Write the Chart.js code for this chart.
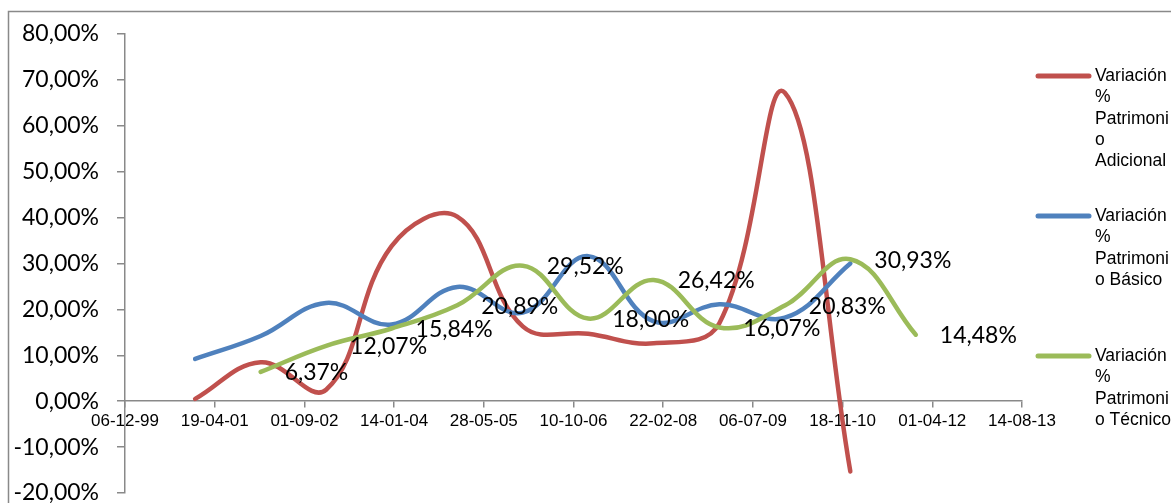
<!DOCTYPE html>
<html lang="es">
  <head>
    <meta charset="UTF-8" />
    <title>Variación % Patrimonio</title>
    <script src="https://cdn.jsdelivr.net/npm/chart.js"></script>
    <style>
      body { margin: 0; background: #fff; }
    </style>
  </head>
  <body>
    <canvas id="chart" width="1171" height="503"></canvas>
    <script>
      // fin de cada año (eje x en fechas)
      const fechas = ["2000-12-31", "2001-12-31", "2002-12-31", "2003-12-31", "2004-12-31", "2005-12-31",
                      "2006-12-31", "2007-12-31", "2008-12-31", "2009-12-31", "2010-12-31", "2011-12-31"];
      const adicional = [0.5, 8.5, 2.5, 33.8, 40.2, 16.3, 14.7, 12.6, 17.0, 67.2, -15.3, null];
      const basico = [9.2, 14.2, 21.4, 16.7, 24.9, 19.3, 31.6, 17.4, 21.1, 18.2, 30.0, null];
      const tecnico = [null, 6.37, 12.07, 15.84, 20.89, 29.52, 18.0, 26.42, 16.07, 20.83, 30.93, 14.48];

      const series = ["Variación % Patrimonio Adicional", "Variación % Patrimonio Básico", "Variación % Patrimonio Técnico"];
      const leyendaLineas = [
        ["Variación", "%", "Patrimoni", "o", "Adicional"],
        ["Variación", "%", "Patrimoni", "o Básico"],
        ["Variación", "%", "Patrimoni", "o Técnico"],
      ];
      const colores = ["#C0504D", "#4F81BD", "#9BBB59"];

      // eje x: serie de fechas estilo Excel, 500 días por marca
      const ejeMin = 36500, ejeMax = 41500, paso = 500;
      const base = Date.UTC(1899, 11, 30);
      const serial = (iso) => (Date.parse(iso) - base) / 864e5;
      const fechaTxt = (v) => {
        const d = new Date(base + v * 864e5);
        const p = (n) => String(n).padStart(2, "0");
        return p(d.getUTCDate()) + "-" + p(d.getUTCMonth() + 1) + "-" + p(d.getUTCFullYear() % 100);
      };
      const pct = (v) => v.toFixed(2).replace(".", ",") + "%";

      const puntos = (vals) =>
        vals.map((v, i) => (v === null ? null : { x: serial(fechas[i]), y: v })).filter((p) => p);

      const gris = "#898989";
      const fuenteNum = "Lato, 'Liberation Sans', sans-serif";

      const marco = {
        id: "marco",
        beforeDraw(chart) {
          const ctx = chart.ctx;
          ctx.save();
          ctx.fillStyle = "#fff";
          ctx.fillRect(0, 0, chart.width, chart.height);
          ctx.strokeStyle = gris;
          ctx.lineWidth = 1.5;
          ctx.strokeRect(8.5, 11.5, 3000, 3000);
          ctx.restore();
        },
      };

      const etiquetas = {
        id: "etiquetas",
        afterDatasetsDraw(chart) {
          const ctx = chart.ctx;
          const meta = chart.getDatasetMeta(2);
          const vals = chart.data.datasets[2].data;
          ctx.save();
          ctx.fillStyle = "#000";
          ctx.font = "23px " + fuenteNum;
          ctx.textAlign = "left";
          ctx.textBaseline = "middle";
          meta.data.forEach((pt, i) => {
            ctx.fillText(pct(vals[i].y), pt.x + 24, pt.y + 1);
          });
          ctx.restore();
        },
      };

      const leyenda = {
        id: "leyenda",
        afterDraw(chart) {
          const ctx = chart.ctx;
          const tops = [76, 216, 356];
          ctx.save();
          ctx.font = "17.5px 'Liberation Sans', Arial, sans-serif";
          ctx.textBaseline = "middle";
          ctx.fillStyle = "#000";
          leyendaLineas.forEach((lineas, k) => {
            const y = tops[k];
            ctx.strokeStyle = colores[k];
            ctx.lineWidth = 5;
            ctx.lineCap = "round";
            ctx.beginPath();
            ctx.moveTo(1038, y);
            ctx.lineTo(1089, y);
            ctx.stroke();
            lineas.forEach((t, j) => ctx.fillText(t, 1095, y + j * 21.4));
          });
          ctx.restore();
        },
      };

      const valores = [adicional, basico, tecnico];
      new Chart(document.getElementById("chart"), {
        type: "line",
        data: {
          datasets: series.map((label, k) => ({
            label,
            data: puntos(valores[k]),
            borderColor: colores[k],
            backgroundColor: colores[k],
            borderWidth: 4.5,
            borderCapStyle: "round",
            pointRadius: 0,
            tension: 0.4,
            fill: false,
            order: 3 - k,
          })),
        },
        options: {
          responsive: false,
          devicePixelRatio: 1,
          animation: false,
          layout: { padding: { left: 0, top: 34, right: 149, bottom: 10 } },
          plugins: { legend: { display: false }, tooltip: { enabled: false } },
          scales: {
            x: {
              type: "linear",
              position: { y: 0 },
              min: ejeMin,
              max: ejeMax,
              afterBuildTicks(scale) {
                const t = [];
                for (let v = ejeMin; v <= ejeMax; v += paso) t.push({ value: v });
                scale.ticks = t;
              },
              ticks: {
                callback: (v) => fechaTxt(v),
                autoSkip: false,
                maxRotation: 0,
                padding: 4,
                color: "#000",
                font: { family: "'Liberation Sans', Arial, sans-serif", size: 17 },
              },
              grid: { drawOnChartArea: false, tickLength: 6, color: gris, lineWidth: 1.5 },
              border: { color: gris, width: 1.5 },
            },
            y: {
              min: -20,
              max: 80,
              ticks: {
                stepSize: 10,
                callback: (v) => pct(v),
                padding: 18,
                color: "#000",
                font: { family: fuenteNum, size: 23 },
              },
              grid: { drawOnChartArea: false, tickLength: 8, color: gris, lineWidth: 1.5 },
              border: { color: gris, width: 1.5 },
              afterFit(scale) {
                scale.width = 125;
                scale.paddingTop = 0;
                scale.paddingBottom = 0;
              },
            },
          },
        },
        plugins: [marco, etiquetas, leyenda],
      });
    </script>
  </body>
</html>
